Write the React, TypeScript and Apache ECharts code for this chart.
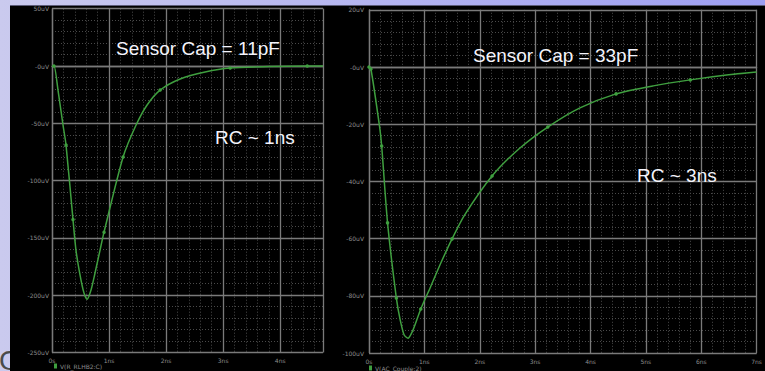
import React, { useEffect, useRef } from "react";
import * as echarts from "echarts";

// ---- Left plot (Sensor Cap = 11pF) ----
const leftTime = [0, 0.035, 0.105, 0.193, 0.246, 0.368, 0.42, 0.49, 0.56, 0.614, 0.684, 0.754, 0.842, 0.912, 1.246, 1.474, 1.667, 1.895, 2.246, 2.684, 3.123, 3.8, 4.474, 4.75];
const leftVolt = [0, 0, -21, -51.5, -69, -134, -160.6, -182, -198, -203.6, -195.5, -180.6, -160.6, -145, -79.4, -51.5, -34, -21, -11.3, -5.2, -1.7, -0.5, 0, 0];
const leftMark = [0, 1, 0, 0, 1, 1, 0, 0, 0, 0, 0, 0, 0, 1, 1, 0, 0, 1, 0, 0, 1, 0, 1, 0];
const leftXLabels = ["0s", "1ns", "2ns", "3ns", "4ns"];
const leftYLabels = ["-250uV", "-200uV", "-150uV", "-100uV", "-50uV", "-0uV", "50uV"];
const leftName = "V(R_RLHB2:C)";

// ---- Right plot (Sensor Cap = 33pF) ----
const rightTime = [0, 0.035, 0.194, 0.229, 0.335, 0.494, 0.564, 0.635, 0.705, 0.794, 0.935, 1.111, 1.305, 1.5, 1.728, 2.222, 2.716, 3.228, 3.81, 4.462, 5.132, 5.802, 6.455, 7.0];
const rightVolt = [0, -0.7, -21.3, -27.6, -54.5, -80.8, -88.5, -93.7, -94.8, -92, -84.6, -76.9, -68.2, -60.1, -51.7, -38.1, -28.5, -21, -14.3, -9.4, -6.6, -4.5, -2.8, -1.75];
const rightMark = [1, 1, 0, 1, 1, 1, 0, 0, 0, 0, 1, 0, 0, 1, 0, 1, 0, 1, 0, 1, 0, 1, 0, 0];
const rightXLabels = ["0s", "1ns", "2ns", "3ns", "4ns", "5ns", "6ns", "7ns"];
const rightYLabels = ["-100uV", "-80uV", "-60uV", "-40uV", "-20uV", "-0uV", "20uV"];
const rightName = "V(AC_Couple:2)";

const GREEN = "#3f9f3f";
const MAJOR = "#7a7a7a";
const MINOR = "#4a4a4a";
const LABEL = "#8c8c8c";

function points(ts: number[], vs: number[], ms: number[]) {
  return ts.map((t, i) => ({
    value: [t, vs[i]],
    symbol: ms[i] ? "circle" : "none",
    symbolSize: 3.5,
  }));
}

function mainX(gridIndex: number, max: number, labels: string[], margin: number) {
  return {
    type: "value",
    gridIndex,
    min: 0,
    max,
    interval: 1,
    axisLine: { show: true, lineStyle: { color: MAJOR, width: 1.3 } },
    axisTick: { show: false },
    splitLine: { show: true, lineStyle: { color: MAJOR, width: 1.3 } },
    axisLabel: {
      color: LABEL,
      fontSize: 6,
      fontFamily: "DejaVu Sans",
      margin,
      showMaxLabel: true,
      formatter: (v: number) => {
        const i = Math.round(v);
        return Math.abs(v - i) < 1e-6 && labels[i] !== undefined ? labels[i] : "";
      },
    },
    z: 3,
  };
}

function minorX(gridIndex: number, max: number) {
  return {
    type: "value",
    gridIndex,
    min: 0,
    max,
    interval: 0.2,
    axisLine: { show: false },
    axisTick: { show: false },
    axisLabel: { show: false },
    splitLine: { show: true, lineStyle: { color: MINOR, width: 1, type: [1, 2] } },
    z: 1,
  };
}

function mainY(gridIndex: number, min: number, max: number, interval: number, labels: string[], margin: number) {
  return {
    type: "value",
    gridIndex,
    min,
    max,
    interval,
    axisLine: { show: true, lineStyle: { color: MAJOR, width: 1.3 } },
    axisTick: { show: false },
    splitLine: { show: true, lineStyle: { color: MAJOR, width: 1.3 } },
    axisLabel: {
      color: LABEL,
      fontSize: 6,
      fontFamily: "DejaVu Sans",
      margin,
      formatter: (v: number) => labels[Math.round((v - min) / interval)] ?? "",
    },
    z: 3,
  };
}

function minorY(gridIndex: number, min: number, max: number, interval: number) {
  return {
    type: "value",
    gridIndex,
    min,
    max,
    interval,
    axisLine: { show: false },
    axisTick: { show: false },
    axisLabel: { show: false },
    splitLine: { show: true, lineStyle: { color: MINOR, width: 1, type: [1, 2] } },
    z: 1,
  };
}

function annot(text: string, x: number, y: number) {
  return {
    type: "text",
    x,
    y,
    z: 10,
    style: {
      text,
      font: '19px "Liberation Sans", Arial, sans-serif',
      fill: "#f4f4fc",
      textAlign: "left",
      textVerticalAlign: "middle",
      align: "left",
      verticalAlign: "middle",
    },
  };
}

export default function App() {
  const ref = useRef<HTMLDivElement>(null);

  useEffect(() => {
    document.body.style.margin = "0";
    if (!ref.current) return;
    const chart = echarts.init(ref.current, null, { renderer: "svg" });
    const option: any = {
      animation: false,
      backgroundColor: new echarts.graphic.LinearGradient(0, 0, 1, 0, [
        { offset: 0, color: "#cacaee" },
        { offset: 1, color: "#9d9ef2" },
      ]),
      graphic: [
        {
          type: "text",
          x: -1,
          y: 346,
          z: -20,
          style: { text: "G", font: '28px "Liberation Sans", Arial, sans-serif', fill: "#4a4a4a" },
        },
        { type: "rect", z: -10, shape: { x: 10, y: 6, width: 760, height: 370 }, style: { fill: "#000000" } },
        { type: "line", z: -9, shape: { x1: 10, y1: 5.5, x2: 765, y2: 5.5 }, style: { stroke: "#5c5c78", lineWidth: 1 } },
        annot("Sensor Cap = 11pF", 116, 48),
        annot("RC ~ 1ns", 215, 137),
        annot("Sensor Cap = 33pF", 473, 55),
        annot("RC ~ 3ns", 637, 175),
      ],
      grid: [
        { left: 52, top: 8.7, width: 271, height: 343.8 },
        { left: 369, top: 9.8, width: 397, height: 343.2 },
      ],
      xAxis: [
        mainX(0, 4.75, leftXLabels, 5),
        minorX(0, 4.75),
        mainX(1, 7, rightXLabels, 5),
        minorX(1, 7),
      ],
      yAxis: [
        mainY(0, -250, 50, 50, leftYLabels, 3),
        minorY(0, -250, 50, 10),
        mainY(1, -100, 20, 20, rightYLabels, 5),
        minorY(1, -100, 20, 4),
      ],
      legend: [
        {
          left: 54,
          top: 363,
          padding: 0,
          itemWidth: 3,
          itemHeight: 5,
          itemGap: 4,
          icon: "rect",
          data: [leftName],
          textStyle: { color: LABEL, fontSize: 6, fontFamily: "DejaVu Sans", padding: [0, 0, 0, -2] },
        },
        {
          left: 369,
          top: 365,
          padding: 0,
          itemWidth: 3,
          itemHeight: 5,
          itemGap: 4,
          icon: "rect",
          data: [rightName],
          textStyle: { color: LABEL, fontSize: 6, fontFamily: "DejaVu Sans", padding: [0, 0, 0, -2] },
        },
      ],
      series: [
        {
          name: leftName,
          type: "line",
          xAxisIndex: 0,
          yAxisIndex: 0,
          data: points(leftTime, leftVolt, leftMark),
          smooth: 0.25,
          showAllSymbol: true,
          lineStyle: { color: GREEN, width: 1.5 },
          itemStyle: { color: GREEN },
          z: 5,
        },
        {
          name: rightName,
          type: "line",
          xAxisIndex: 2,
          yAxisIndex: 2,
          data: points(rightTime, rightVolt, rightMark),
          smooth: 0.25,
          showAllSymbol: true,
          lineStyle: { color: GREEN, width: 1.5 },
          itemStyle: { color: GREEN },
          z: 5,
        },
      ],
    };
    chart.setOption(option);
    return () => chart.dispose();
  }, []);

  return <div ref={ref} style={{ width: 765, height: 371 }} />;
}
